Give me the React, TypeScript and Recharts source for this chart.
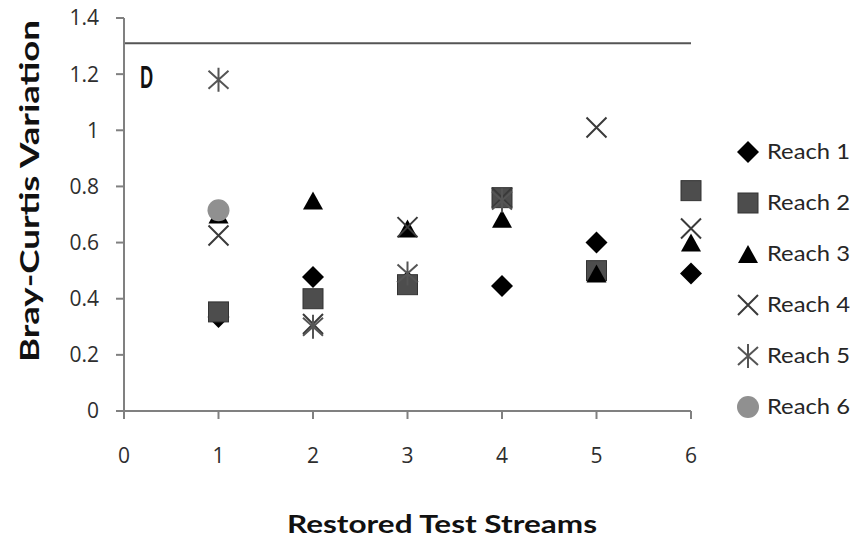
import React from 'react';
import { ScatterChart, Scatter, XAxis, YAxis, ReferenceLine } from 'recharts';

const streams = [1, 2, 3, 4, 5, 6];
const reach1 = [0.335, 0.477, 0.46, 0.445, 0.6, 0.49];
const reach2 = [0.353, 0.4, 0.45, 0.76, 0.5, 0.785];
const reach3 = [0.7, 0.75, 0.65, 0.685, 0.49, 0.6];
const reach4 = [0.625, 0.31, 0.655, 0.76, 1.01, 0.65];
const reach5 = [1.18, 0.3, 0.49, 0.75, null, null];
const reach6 = [0.715, null, null, null, null, null];
const seriesNames = ['Reach 1', 'Reach 2', 'Reach 3', 'Reach 4', 'Reach 5', 'Reach 6'];
const xTicks = [0, 1, 2, 3, 4, 5, 6];
const yTicks = [0, 0.2, 0.4, 0.6, 0.8, 1, 1.2, 1.4];
const thresholdValue = 1.31;
const panelLabel = 'D';
const xTitle = 'Restored Test Streams';
const yTitle = 'Bray-Curtis Variation';

const toPoints = (vals: (number | null)[]) =>
  streams.map((x, i) => ({ x, y: vals[i] })).filter((p) => p.y !== null);

type MarkerKind = 'diamond' | 'square' | 'triangle' | 'x' | 'star' | 'circle';

const Marker = ({ kind, cx, cy }: { kind: MarkerKind; cx: number; cy: number }) => {
  switch (kind) {
    case 'diamond':
      return <path d={`M${cx},${cy - 11}L${cx + 11},${cy}L${cx},${cy + 11}L${cx - 11},${cy}Z`} fill="#000" />;
    case 'square':
      return <rect x={cx - 10} y={cy - 10} width={20} height={20} fill="#4d4d4d" stroke="#333" strokeWidth={1} />;
    case 'triangle':
      return <path d={`M${cx},${cy - 9}L${cx + 10},${cy + 9}L${cx - 10},${cy + 9}Z`} fill="#000" />;
    case 'x':
      return (
        <path
          d={`M${cx - 10},${cy - 10}L${cx + 10},${cy + 10}M${cx + 10},${cy - 10}L${cx - 10},${cy + 10}`}
          stroke="#3a3a3a"
          strokeWidth={2}
          fill="none"
        />
      );
    case 'star':
      return (
        <path
          d={`M${cx - 10},${cy - 9}L${cx + 10},${cy + 9}M${cx + 10},${cy - 9}L${cx - 10},${cy + 9}M${cx},${cy - 12}L${cx},${cy + 12}`}
          stroke="#555"
          strokeWidth={2}
          fill="none"
        />
      );
    case 'circle':
    default:
      return <circle cx={cx} cy={cy} r={11} fill="#909090" />;
  }
};

const kinds: MarkerKind[] = ['diamond', 'square', 'triangle', 'x', 'star', 'circle'];
const allSeries = [reach1, reach2, reach3, reach4, reach5, reach6];

const shapeFor = (kind: MarkerKind) => (props: any) => <Marker kind={kind} cx={props.cx} cy={props.cy} />;

const tickStyle = { fill: '#2e2e2e', fontSize: 21, fontFamily: 'Open Sans' };

export default function App() {
  return (
    <div style={{ position: 'absolute', left: 0, top: 0, width: 855, height: 538, background: '#fff' }}>
      <ScatterChart width={855} height={538} margin={{ top: 18, right: 164, bottom: 67, left: 0 }}>
        <XAxis
          type="number"
          dataKey="x"
          domain={[0, 6]}
          ticks={xTicks}
          height={60}
          stroke="#808080"
          strokeWidth={2}
          tickSize={8}
          tickMargin={29}
          tick={tickStyle}
          interval={0}
        />
        <YAxis
          type="number"
          dataKey="y"
          domain={[0, 1.4]}
          ticks={yTicks}
          width={124}
          stroke="#808080"
          strokeWidth={2}
          tickSize={8}
          tickMargin={17}
          tick={tickStyle}
          interval={0}
        />
        <ReferenceLine y={thresholdValue} stroke="#555" strokeWidth={2} ifOverflow="extendDomain" />
        {allSeries.map((vals, i) => (
          <Scatter
            key={seriesNames[i]}
            name={seriesNames[i]}
            data={toPoints(vals)}
            shape={shapeFor(kinds[i])}
            isAnimationActive={false}
          />
        ))}
      </ScatterChart>
      <svg width={855} height={538} style={{ position: 'absolute', left: 0, top: 0, pointerEvents: 'none' }}>
        <text
          x={140}
          y={88}
          fontFamily="Lato"
          fontWeight="900"
          fontSize={31}
          fill="#111"
          textLength={13}
          lengthAdjust="spacingAndGlyphs"
        >
          {panelLabel}
        </text>
        <text
          x={287}
          y={533}
          fontFamily="Lato"
          fontWeight="bold"
          fontSize={25}
          fill="#111"
          textLength={310}
          lengthAdjust="spacingAndGlyphs"
        >
          {xTitle}
        </text>
        <text
          transform="translate(39,362) rotate(-90)"
          x={0}
          y={0}
          fontFamily="Lato"
          fontWeight="bold"
          fontSize={26}
          fill="#111"
          textLength={342}
          lengthAdjust="spacingAndGlyphs"
        >
          {yTitle}
        </text>
        {seriesNames.map((name, i) => {
          const cy = 152 + i * 51;
          return (
            <g key={name}>
              <Marker kind={kinds[i]} cx={748} cy={cy} />
              <text
                x={767}
                y={cy + 7}
                fontFamily="Lato"
                fontSize={21}
                fill="#262626"
                textLength={83}
                lengthAdjust="spacingAndGlyphs"
              >
                {name}
              </text>
            </g>
          );
        })}
      </svg>
    </div>
  );
}
